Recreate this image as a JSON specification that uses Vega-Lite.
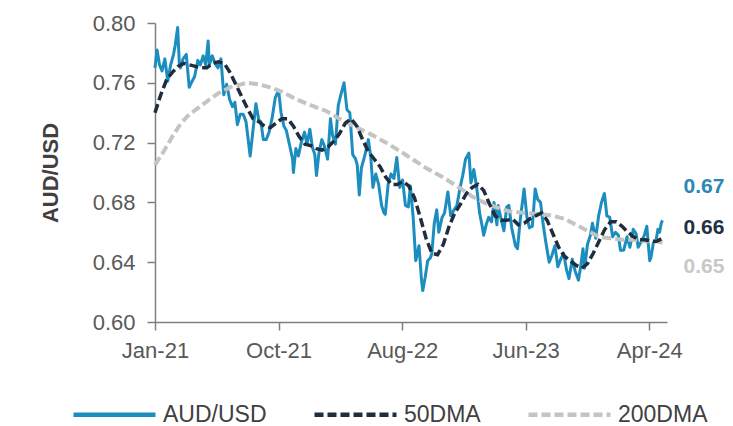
{
  "$schema": "https://vega.github.io/schema/vega-lite/v6.json",
  "width": 512,
  "height": 299,
  "autosize": {"type": "none"},
  "padding": {"left": 155, "top": 23, "right": 66, "bottom": 104},
  "background": "white",
  "config": {
    "view": {"stroke": null},
    "font": "Liberation Sans",
    "axis": {"grid": false, "domainColor": "#7f7f7f", "tickColor": "#7f7f7f", "labelColor": "#595959", "labelFontSize": 22, "labelFont": "Liberation Sans", "tickSize": 8, "domainWidth": 1.5, "tickWidth": 1.5},
    "legend": {
      "orient": "none", "legendX": -84, "legendY": 348, "direction": "horizontal", "title": null,
      "symbolType": "stroke", "symbolSize": 6724, "symbolStrokeWidth": 4.5,
      "labelFontSize": 23, "labelFont": "Liberation Sans", "labelColor": "#404040",
      "columnPadding": 38, "labelOffset": 5, "padding": 0
    }
  },
  "datasets": {
    "labels": [
      {"date": "2024-05-17", "value": 0.668, "series": "AUD/USD", "label": "0.67"},
      {"date": "2024-05-17", "value": 0.656, "series": "50DMA", "label": "0.66"},
      {"date": "2024-05-17", "value": 0.653, "series": "200DMA", "label": "0.65"}
    ],
    "series": [
      {"date":"2021-01-01","value":0.770,"series":"AUD/USD"},
      {"date":"2021-01-06","value":0.782,"series":"AUD/USD"},
      {"date":"2021-01-12","value":0.772,"series":"AUD/USD"},
      {"date":"2021-01-18","value":0.768,"series":"AUD/USD"},
      {"date":"2021-01-25","value":0.776,"series":"AUD/USD"},
      {"date":"2021-02-01","value":0.761,"series":"AUD/USD"},
      {"date":"2021-02-08","value":0.772,"series":"AUD/USD"},
      {"date":"2021-02-15","value":0.779,"series":"AUD/USD"},
      {"date":"2021-02-19","value":0.785,"series":"AUD/USD"},
      {"date":"2021-02-25","value":0.797,"series":"AUD/USD"},
      {"date":"2021-03-01","value":0.773,"series":"AUD/USD"},
      {"date":"2021-03-04","value":0.770,"series":"AUD/USD"},
      {"date":"2021-03-10","value":0.776,"series":"AUD/USD"},
      {"date":"2021-03-18","value":0.779,"series":"AUD/USD"},
      {"date":"2021-03-25","value":0.757,"series":"AUD/USD"},
      {"date":"2021-04-01","value":0.761,"series":"AUD/USD"},
      {"date":"2021-04-07","value":0.764,"series":"AUD/USD"},
      {"date":"2021-04-15","value":0.775,"series":"AUD/USD"},
      {"date":"2021-04-21","value":0.772,"series":"AUD/USD"},
      {"date":"2021-04-28","value":0.778,"series":"AUD/USD"},
      {"date":"2021-05-04","value":0.772,"series":"AUD/USD"},
      {"date":"2021-05-10","value":0.788,"series":"AUD/USD"},
      {"date":"2021-05-13","value":0.772,"series":"AUD/USD"},
      {"date":"2021-05-20","value":0.778,"series":"AUD/USD"},
      {"date":"2021-05-27","value":0.773,"series":"AUD/USD"},
      {"date":"2021-06-03","value":0.770,"series":"AUD/USD"},
      {"date":"2021-06-10","value":0.776,"series":"AUD/USD"},
      {"date":"2021-06-17","value":0.752,"series":"AUD/USD"},
      {"date":"2021-06-24","value":0.759,"series":"AUD/USD"},
      {"date":"2021-07-01","value":0.749,"series":"AUD/USD"},
      {"date":"2021-07-08","value":0.744,"series":"AUD/USD"},
      {"date":"2021-07-14","value":0.747,"series":"AUD/USD"},
      {"date":"2021-07-20","value":0.732,"series":"AUD/USD"},
      {"date":"2021-07-27","value":0.739,"series":"AUD/USD"},
      {"date":"2021-08-03","value":0.739,"series":"AUD/USD"},
      {"date":"2021-08-10","value":0.734,"series":"AUD/USD"},
      {"date":"2021-08-20","value":0.711,"series":"AUD/USD"},
      {"date":"2021-08-26","value":0.726,"series":"AUD/USD"},
      {"date":"2021-09-03","value":0.746,"series":"AUD/USD"},
      {"date":"2021-09-10","value":0.735,"series":"AUD/USD"},
      {"date":"2021-09-15","value":0.734,"series":"AUD/USD"},
      {"date":"2021-09-21","value":0.722,"series":"AUD/USD"},
      {"date":"2021-09-28","value":0.722,"series":"AUD/USD"},
      {"date":"2021-10-05","value":0.727,"series":"AUD/USD"},
      {"date":"2021-10-12","value":0.736,"series":"AUD/USD"},
      {"date":"2021-10-20","value":0.750,"series":"AUD/USD"},
      {"date":"2021-10-28","value":0.755,"series":"AUD/USD"},
      {"date":"2021-11-03","value":0.740,"series":"AUD/USD"},
      {"date":"2021-11-10","value":0.731,"series":"AUD/USD"},
      {"date":"2021-11-16","value":0.728,"series":"AUD/USD"},
      {"date":"2021-11-24","value":0.718,"series":"AUD/USD"},
      {"date":"2021-12-01","value":0.709,"series":"AUD/USD"},
      {"date":"2021-12-03","value":0.700,"series":"AUD/USD"},
      {"date":"2021-12-09","value":0.716,"series":"AUD/USD"},
      {"date":"2021-12-15","value":0.711,"series":"AUD/USD"},
      {"date":"2021-12-22","value":0.720,"series":"AUD/USD"},
      {"date":"2021-12-30","value":0.727,"series":"AUD/USD"},
      {"date":"2022-01-05","value":0.719,"series":"AUD/USD"},
      {"date":"2022-01-12","value":0.729,"series":"AUD/USD"},
      {"date":"2022-01-18","value":0.717,"series":"AUD/USD"},
      {"date":"2022-01-24","value":0.712,"series":"AUD/USD"},
      {"date":"2022-01-28","value":0.698,"series":"AUD/USD"},
      {"date":"2022-02-03","value":0.713,"series":"AUD/USD"},
      {"date":"2022-02-10","value":0.722,"series":"AUD/USD"},
      {"date":"2022-02-16","value":0.718,"series":"AUD/USD"},
      {"date":"2022-02-24","value":0.709,"series":"AUD/USD"},
      {"date":"2022-03-03","value":0.736,"series":"AUD/USD"},
      {"date":"2022-03-08","value":0.725,"series":"AUD/USD"},
      {"date":"2022-03-15","value":0.719,"series":"AUD/USD"},
      {"date":"2022-03-22","value":0.745,"series":"AUD/USD"},
      {"date":"2022-03-29","value":0.753,"series":"AUD/USD"},
      {"date":"2022-04-05","value":0.760,"series":"AUD/USD"},
      {"date":"2022-04-12","value":0.742,"series":"AUD/USD"},
      {"date":"2022-04-19","value":0.740,"series":"AUD/USD"},
      {"date":"2022-04-26","value":0.712,"series":"AUD/USD"},
      {"date":"2022-05-03","value":0.709,"series":"AUD/USD"},
      {"date":"2022-05-07","value":0.705,"series":"AUD/USD"},
      {"date":"2022-05-12","value":0.685,"series":"AUD/USD"},
      {"date":"2022-05-17","value":0.703,"series":"AUD/USD"},
      {"date":"2022-05-24","value":0.710,"series":"AUD/USD"},
      {"date":"2022-05-31","value":0.718,"series":"AUD/USD"},
      {"date":"2022-06-03","value":0.722,"series":"AUD/USD"},
      {"date":"2022-06-09","value":0.710,"series":"AUD/USD"},
      {"date":"2022-06-14","value":0.690,"series":"AUD/USD"},
      {"date":"2022-06-21","value":0.699,"series":"AUD/USD"},
      {"date":"2022-06-28","value":0.692,"series":"AUD/USD"},
      {"date":"2022-07-05","value":0.678,"series":"AUD/USD"},
      {"date":"2022-07-11","value":0.673,"series":"AUD/USD"},
      {"date":"2022-07-14","value":0.672,"series":"AUD/USD"},
      {"date":"2022-07-21","value":0.692,"series":"AUD/USD"},
      {"date":"2022-07-28","value":0.699,"series":"AUD/USD"},
      {"date":"2022-08-04","value":0.696,"series":"AUD/USD"},
      {"date":"2022-08-11","value":0.710,"series":"AUD/USD"},
      {"date":"2022-08-18","value":0.690,"series":"AUD/USD"},
      {"date":"2022-08-25","value":0.695,"series":"AUD/USD"},
      {"date":"2022-09-01","value":0.678,"series":"AUD/USD"},
      {"date":"2022-09-08","value":0.677,"series":"AUD/USD"},
      {"date":"2022-09-13","value":0.691,"series":"AUD/USD"},
      {"date":"2022-09-20","value":0.669,"series":"AUD/USD"},
      {"date":"2022-09-26","value":0.641,"series":"AUD/USD"},
      {"date":"2022-10-04","value":0.651,"series":"AUD/USD"},
      {"date":"2022-10-10","value":0.628,"series":"AUD/USD"},
      {"date":"2022-10-13","value":0.621,"series":"AUD/USD"},
      {"date":"2022-10-19","value":0.630,"series":"AUD/USD"},
      {"date":"2022-10-25","value":0.641,"series":"AUD/USD"},
      {"date":"2022-11-01","value":0.643,"series":"AUD/USD"},
      {"date":"2022-11-04","value":0.646,"series":"AUD/USD"},
      {"date":"2022-11-10","value":0.666,"series":"AUD/USD"},
      {"date":"2022-11-16","value":0.675,"series":"AUD/USD"},
      {"date":"2022-11-21","value":0.660,"series":"AUD/USD"},
      {"date":"2022-11-29","value":0.670,"series":"AUD/USD"},
      {"date":"2022-12-05","value":0.673,"series":"AUD/USD"},
      {"date":"2022-12-13","value":0.687,"series":"AUD/USD"},
      {"date":"2022-12-20","value":0.671,"series":"AUD/USD"},
      {"date":"2022-12-28","value":0.675,"series":"AUD/USD"},
      {"date":"2023-01-04","value":0.678,"series":"AUD/USD"},
      {"date":"2023-01-11","value":0.689,"series":"AUD/USD"},
      {"date":"2023-01-18","value":0.698,"series":"AUD/USD"},
      {"date":"2023-01-25","value":0.709,"series":"AUD/USD"},
      {"date":"2023-02-02","value":0.713,"series":"AUD/USD"},
      {"date":"2023-02-07","value":0.693,"series":"AUD/USD"},
      {"date":"2023-02-14","value":0.702,"series":"AUD/USD"},
      {"date":"2023-02-21","value":0.690,"series":"AUD/USD"},
      {"date":"2023-02-28","value":0.673,"series":"AUD/USD"},
      {"date":"2023-03-07","value":0.663,"series":"AUD/USD"},
      {"date":"2023-03-10","value":0.658,"series":"AUD/USD"},
      {"date":"2023-03-16","value":0.665,"series":"AUD/USD"},
      {"date":"2023-03-22","value":0.670,"series":"AUD/USD"},
      {"date":"2023-03-29","value":0.667,"series":"AUD/USD"},
      {"date":"2023-04-04","value":0.680,"series":"AUD/USD"},
      {"date":"2023-04-11","value":0.665,"series":"AUD/USD"},
      {"date":"2023-04-14","value":0.678,"series":"AUD/USD"},
      {"date":"2023-04-21","value":0.669,"series":"AUD/USD"},
      {"date":"2023-04-28","value":0.661,"series":"AUD/USD"},
      {"date":"2023-05-05","value":0.677,"series":"AUD/USD"},
      {"date":"2023-05-10","value":0.678,"series":"AUD/USD"},
      {"date":"2023-05-17","value":0.663,"series":"AUD/USD"},
      {"date":"2023-05-26","value":0.651,"series":"AUD/USD"},
      {"date":"2023-05-31","value":0.649,"series":"AUD/USD"},
      {"date":"2023-06-07","value":0.669,"series":"AUD/USD"},
      {"date":"2023-06-16","value":0.689,"series":"AUD/USD"},
      {"date":"2023-06-23","value":0.670,"series":"AUD/USD"},
      {"date":"2023-06-29","value":0.663,"series":"AUD/USD"},
      {"date":"2023-07-06","value":0.664,"series":"AUD/USD"},
      {"date":"2023-07-13","value":0.689,"series":"AUD/USD"},
      {"date":"2023-07-19","value":0.682,"series":"AUD/USD"},
      {"date":"2023-07-26","value":0.680,"series":"AUD/USD"},
      {"date":"2023-08-01","value":0.666,"series":"AUD/USD"},
      {"date":"2023-08-08","value":0.653,"series":"AUD/USD"},
      {"date":"2023-08-16","value":0.640,"series":"AUD/USD"},
      {"date":"2023-08-22","value":0.644,"series":"AUD/USD"},
      {"date":"2023-08-30","value":0.651,"series":"AUD/USD"},
      {"date":"2023-09-06","value":0.637,"series":"AUD/USD"},
      {"date":"2023-09-13","value":0.642,"series":"AUD/USD"},
      {"date":"2023-09-20","value":0.646,"series":"AUD/USD"},
      {"date":"2023-09-27","value":0.635,"series":"AUD/USD"},
      {"date":"2023-10-03","value":0.629,"series":"AUD/USD"},
      {"date":"2023-10-11","value":0.642,"series":"AUD/USD"},
      {"date":"2023-10-18","value":0.634,"series":"AUD/USD"},
      {"date":"2023-10-26","value":0.628,"series":"AUD/USD"},
      {"date":"2023-11-01","value":0.638,"series":"AUD/USD"},
      {"date":"2023-11-06","value":0.649,"series":"AUD/USD"},
      {"date":"2023-11-10","value":0.636,"series":"AUD/USD"},
      {"date":"2023-11-17","value":0.652,"series":"AUD/USD"},
      {"date":"2023-11-24","value":0.658,"series":"AUD/USD"},
      {"date":"2023-11-29","value":0.666,"series":"AUD/USD"},
      {"date":"2023-12-07","value":0.656,"series":"AUD/USD"},
      {"date":"2023-12-14","value":0.671,"series":"AUD/USD"},
      {"date":"2023-12-21","value":0.680,"series":"AUD/USD"},
      {"date":"2023-12-28","value":0.686,"series":"AUD/USD"},
      {"date":"2024-01-03","value":0.671,"series":"AUD/USD"},
      {"date":"2024-01-10","value":0.670,"series":"AUD/USD"},
      {"date":"2024-01-17","value":0.657,"series":"AUD/USD"},
      {"date":"2024-01-24","value":0.660,"series":"AUD/USD"},
      {"date":"2024-01-31","value":0.658,"series":"AUD/USD"},
      {"date":"2024-02-05","value":0.648,"series":"AUD/USD"},
      {"date":"2024-02-13","value":0.648,"series":"AUD/USD"},
      {"date":"2024-02-21","value":0.657,"series":"AUD/USD"},
      {"date":"2024-02-28","value":0.650,"series":"AUD/USD"},
      {"date":"2024-03-07","value":0.662,"series":"AUD/USD"},
      {"date":"2024-03-14","value":0.659,"series":"AUD/USD"},
      {"date":"2024-03-19","value":0.650,"series":"AUD/USD"},
      {"date":"2024-03-27","value":0.654,"series":"AUD/USD"},
      {"date":"2024-04-03","value":0.658,"series":"AUD/USD"},
      {"date":"2024-04-09","value":0.664,"series":"AUD/USD"},
      {"date":"2024-04-16","value":0.641,"series":"AUD/USD"},
      {"date":"2024-04-19","value":0.643,"series":"AUD/USD"},
      {"date":"2024-04-25","value":0.653,"series":"AUD/USD"},
      {"date":"2024-05-01","value":0.654,"series":"AUD/USD"},
      {"date":"2024-05-06","value":0.662,"series":"AUD/USD"},
      {"date":"2024-05-10","value":0.660,"series":"AUD/USD"},
      {"date":"2024-05-14","value":0.666,"series":"AUD/USD"},
      {"date":"2024-05-17","value":0.668,"series":"AUD/USD"},
      {"date":"2021-01-01","value":0.740,"series":"50DMA"},
      {"date":"2021-01-15","value":0.752,"series":"50DMA"},
      {"date":"2021-01-29","value":0.762,"series":"50DMA"},
      {"date":"2021-02-12","value":0.767,"series":"50DMA"},
      {"date":"2021-02-26","value":0.771,"series":"50DMA"},
      {"date":"2021-03-12","value":0.773,"series":"50DMA"},
      {"date":"2021-03-26","value":0.772,"series":"50DMA"},
      {"date":"2021-04-09","value":0.771,"series":"50DMA"},
      {"date":"2021-04-23","value":0.770,"series":"50DMA"},
      {"date":"2021-05-07","value":0.770,"series":"50DMA"},
      {"date":"2021-05-21","value":0.773,"series":"50DMA"},
      {"date":"2021-06-04","value":0.774,"series":"50DMA"},
      {"date":"2021-06-18","value":0.773,"series":"50DMA"},
      {"date":"2021-07-02","value":0.767,"series":"50DMA"},
      {"date":"2021-07-16","value":0.759,"series":"50DMA"},
      {"date":"2021-07-30","value":0.751,"series":"50DMA"},
      {"date":"2021-08-13","value":0.743,"series":"50DMA"},
      {"date":"2021-08-27","value":0.736,"series":"50DMA"},
      {"date":"2021-09-10","value":0.734,"series":"50DMA"},
      {"date":"2021-09-24","value":0.731,"series":"50DMA"},
      {"date":"2021-10-08","value":0.730,"series":"50DMA"},
      {"date":"2021-10-22","value":0.733,"series":"50DMA"},
      {"date":"2021-11-05","value":0.736,"series":"50DMA"},
      {"date":"2021-11-19","value":0.736,"series":"50DMA"},
      {"date":"2021-12-03","value":0.731,"series":"50DMA"},
      {"date":"2021-12-17","value":0.724,"series":"50DMA"},
      {"date":"2021-12-31","value":0.719,"series":"50DMA"},
      {"date":"2022-01-14","value":0.718,"series":"50DMA"},
      {"date":"2022-01-28","value":0.716,"series":"50DMA"},
      {"date":"2022-02-11","value":0.715,"series":"50DMA"},
      {"date":"2022-02-25","value":0.717,"series":"50DMA"},
      {"date":"2022-03-11","value":0.721,"series":"50DMA"},
      {"date":"2022-03-25","value":0.726,"series":"50DMA"},
      {"date":"2022-04-08","value":0.733,"series":"50DMA"},
      {"date":"2022-04-22","value":0.736,"series":"50DMA"},
      {"date":"2022-05-06","value":0.731,"series":"50DMA"},
      {"date":"2022-05-20","value":0.722,"series":"50DMA"},
      {"date":"2022-06-03","value":0.714,"series":"50DMA"},
      {"date":"2022-06-17","value":0.709,"series":"50DMA"},
      {"date":"2022-07-01","value":0.704,"series":"50DMA"},
      {"date":"2022-07-15","value":0.697,"series":"50DMA"},
      {"date":"2022-07-29","value":0.692,"series":"50DMA"},
      {"date":"2022-08-12","value":0.692,"series":"50DMA"},
      {"date":"2022-08-26","value":0.694,"series":"50DMA"},
      {"date":"2022-09-09","value":0.691,"series":"50DMA"},
      {"date":"2022-09-23","value":0.683,"series":"50DMA"},
      {"date":"2022-10-07","value":0.670,"series":"50DMA"},
      {"date":"2022-10-21","value":0.656,"series":"50DMA"},
      {"date":"2022-11-04","value":0.646,"series":"50DMA"},
      {"date":"2022-11-18","value":0.645,"series":"50DMA"},
      {"date":"2022-12-02","value":0.652,"series":"50DMA"},
      {"date":"2022-12-16","value":0.664,"series":"50DMA"},
      {"date":"2022-12-30","value":0.673,"series":"50DMA"},
      {"date":"2023-01-13","value":0.679,"series":"50DMA"},
      {"date":"2023-01-27","value":0.686,"series":"50DMA"},
      {"date":"2023-02-10","value":0.690,"series":"50DMA"},
      {"date":"2023-02-24","value":0.692,"series":"50DMA"},
      {"date":"2023-03-10","value":0.688,"series":"50DMA"},
      {"date":"2023-03-24","value":0.679,"series":"50DMA"},
      {"date":"2023-04-07","value":0.671,"series":"50DMA"},
      {"date":"2023-04-21","value":0.668,"series":"50DMA"},
      {"date":"2023-05-05","value":0.668,"series":"50DMA"},
      {"date":"2023-05-19","value":0.669,"series":"50DMA"},
      {"date":"2023-06-02","value":0.665,"series":"50DMA"},
      {"date":"2023-06-16","value":0.666,"series":"50DMA"},
      {"date":"2023-06-30","value":0.669,"series":"50DMA"},
      {"date":"2023-07-14","value":0.671,"series":"50DMA"},
      {"date":"2023-07-28","value":0.673,"series":"50DMA"},
      {"date":"2023-08-11","value":0.668,"series":"50DMA"},
      {"date":"2023-08-25","value":0.659,"series":"50DMA"},
      {"date":"2023-09-08","value":0.650,"series":"50DMA"},
      {"date":"2023-09-22","value":0.644,"series":"50DMA"},
      {"date":"2023-10-06","value":0.641,"series":"50DMA"},
      {"date":"2023-10-20","value":0.638,"series":"50DMA"},
      {"date":"2023-11-03","value":0.636,"series":"50DMA"},
      {"date":"2023-11-17","value":0.639,"series":"50DMA"},
      {"date":"2023-12-01","value":0.646,"series":"50DMA"},
      {"date":"2023-12-15","value":0.654,"series":"50DMA"},
      {"date":"2023-12-29","value":0.662,"series":"50DMA"},
      {"date":"2024-01-12","value":0.667,"series":"50DMA"},
      {"date":"2024-01-26","value":0.667,"series":"50DMA"},
      {"date":"2024-02-09","value":0.664,"series":"50DMA"},
      {"date":"2024-02-23","value":0.660,"series":"50DMA"},
      {"date":"2024-03-08","value":0.657,"series":"50DMA"},
      {"date":"2024-03-22","value":0.655,"series":"50DMA"},
      {"date":"2024-04-05","value":0.655,"series":"50DMA"},
      {"date":"2024-04-19","value":0.654,"series":"50DMA"},
      {"date":"2024-05-03","value":0.654,"series":"50DMA"},
      {"date":"2024-05-17","value":0.656,"series":"50DMA"},
      {"date":"2021-01-01","value":0.705,"series":"200DMA"},
      {"date":"2021-01-22","value":0.714,"series":"200DMA"},
      {"date":"2021-02-12","value":0.724,"series":"200DMA"},
      {"date":"2021-03-05","value":0.733,"series":"200DMA"},
      {"date":"2021-03-26","value":0.739,"series":"200DMA"},
      {"date":"2021-04-20","value":0.744,"series":"200DMA"},
      {"date":"2021-05-14","value":0.749,"series":"200DMA"},
      {"date":"2021-06-04","value":0.753,"series":"200DMA"},
      {"date":"2021-07-02","value":0.757,"series":"200DMA"},
      {"date":"2021-08-12","value":0.760,"series":"200DMA"},
      {"date":"2021-09-10","value":0.759,"series":"200DMA"},
      {"date":"2021-10-07","value":0.757,"series":"200DMA"},
      {"date":"2021-11-05","value":0.754,"series":"200DMA"},
      {"date":"2021-12-10","value":0.749,"series":"200DMA"},
      {"date":"2022-01-14","value":0.745,"series":"200DMA"},
      {"date":"2022-02-22","value":0.741,"series":"200DMA"},
      {"date":"2022-03-25","value":0.736,"series":"200DMA"},
      {"date":"2022-04-29","value":0.731,"series":"200DMA"},
      {"date":"2022-06-13","value":0.725,"series":"200DMA"},
      {"date":"2022-07-22","value":0.719,"series":"200DMA"},
      {"date":"2022-08-26","value":0.713,"series":"200DMA"},
      {"date":"2022-09-23","value":0.708,"series":"200DMA"},
      {"date":"2022-10-21","value":0.703,"series":"200DMA"},
      {"date":"2022-11-30","value":0.697,"series":"200DMA"},
      {"date":"2023-01-09","value":0.690,"series":"200DMA"},
      {"date":"2023-02-10","value":0.684,"series":"200DMA"},
      {"date":"2023-03-10","value":0.680,"series":"200DMA"},
      {"date":"2023-04-07","value":0.677,"series":"200DMA"},
      {"date":"2023-05-11","value":0.674,"series":"200DMA"},
      {"date":"2023-06-16","value":0.673,"series":"200DMA"},
      {"date":"2023-07-30","value":0.672,"series":"200DMA"},
      {"date":"2023-08-25","value":0.671,"series":"200DMA"},
      {"date":"2023-09-22","value":0.669,"series":"200DMA"},
      {"date":"2023-10-20","value":0.665,"series":"200DMA"},
      {"date":"2023-11-17","value":0.661,"series":"200DMA"},
      {"date":"2023-12-15","value":0.657,"series":"200DMA"},
      {"date":"2024-01-12","value":0.656,"series":"200DMA"},
      {"date":"2024-02-09","value":0.655,"series":"200DMA"},
      {"date":"2024-03-08","value":0.655,"series":"200DMA"},
      {"date":"2024-04-05","value":0.654,"series":"200DMA"},
      {"date":"2024-05-03","value":0.654,"series":"200DMA"},
      {"date":"2024-05-17","value":0.653,"series":"200DMA"}
    ]
  },
  "data": {"name": "series"},
  "encoding": {
    "x": {
      "field": "date", "type": "temporal",
      "scale": {"type": "utc", "domain": [{"year": 2021, "month": 1, "date": 1, "utc": true}, {"year": 2024, "month": 5, "date": 28, "utc": true}]},
      "axis": {
        "title": null, "labelExpr": "utcFormat(datum.value, '%b-%y')", "labelFlush": false, "labelOverlap": false, "labelPadding": 10,
        "values": [
          {"year": 2021, "month": 1, "date": 1, "utc": true},
          {"year": 2021, "month": 10, "date": 28, "utc": true},
          {"year": 2022, "month": 8, "date": 24, "utc": true},
          {"year": 2023, "month": 6, "date": 20, "utc": true},
          {"year": 2024, "month": 4, "date": 15, "utc": true}
        ]
      }
    },
    "y": {
      "field": "value", "type": "quantitative",
      "scale": {"domain": [0.6, 0.8], "zero": false, "nice": false},
      "axis": {
        "title": "AUD/USD", "titleFontWeight": "bold", "titleFontSize": 22, "titleColor": "#404040", "titlePadding": 30,
        "values": [0.6, 0.64, 0.68, 0.72, 0.76, 0.8], "format": ".2f", "labelPadding": 12
      }
    }
  },
  "layer": [
    {
      "transform": [{"filter": "datum.series === 'AUD/USD'"}],
      "mark": {"type": "line", "strokeWidth": 3, "strokeJoin": "round"},
      "encoding": {
        "color": {"field": "series", "type": "nominal", "scale": {"domain": ["AUD/USD", "50DMA", "200DMA"], "range": ["#1c8dbf", "#1f2d3d", "#c4c4c4"]}, "legend": {"title": null}},
        "strokeDash": {"field": "series", "type": "nominal", "scale": {"domain": ["AUD/USD", "50DMA", "200DMA"], "range": [[1, 0], [9, 4], [9, 4]]}, "legend": {"title": null}}
      }
    },
    {
      "transform": [{"filter": "datum.series === '200DMA'"}],
      "mark": {"type": "line", "strokeWidth": 4},
      "encoding": {
        "color": {"field": "series", "type": "nominal", "legend": {"title": null}},
        "strokeDash": {"field": "series", "type": "nominal", "legend": {"title": null}}
      }
    },
    {
      "transform": [{"filter": "datum.series === '50DMA'"}],
      "mark": {"type": "line", "strokeWidth": 3.5},
      "encoding": {
        "color": {"field": "series", "type": "nominal", "legend": {"title": null}},
        "strokeDash": {"field": "series", "type": "nominal", "legend": {"title": null}}
      }
    },
    {
      "data": {"name": "labels"},
      "transform": [{"filter": "datum.series === 'AUD/USD'"}],
      "mark": {"type": "text", "align": "left", "baseline": "middle", "dx": 21, "dy": -33, "fontSize": 21, "fontWeight": "bold", "color": "#2b87b3"},
      "encoding": {"text": {"field": "label"}}
    },
    {
      "data": {"name": "labels"},
      "transform": [{"filter": "datum.series === '50DMA'"}],
      "mark": {"type": "text", "align": "left", "baseline": "middle", "dx": 21, "dy": -10, "fontSize": 21, "fontWeight": "bold", "color": "#22303f"},
      "encoding": {"text": {"field": "label"}}
    },
    {
      "data": {"name": "labels"},
      "transform": [{"filter": "datum.series === '200DMA'"}],
      "mark": {"type": "text", "align": "left", "baseline": "middle", "dx": 21, "dy": 24, "fontSize": 21, "fontWeight": "bold", "color": "#c8c8c8"},
      "encoding": {"text": {"field": "label"}}
    }
  ],
  "resolve": {"scale": {"color": "shared", "strokeDash": "shared"}}
}
